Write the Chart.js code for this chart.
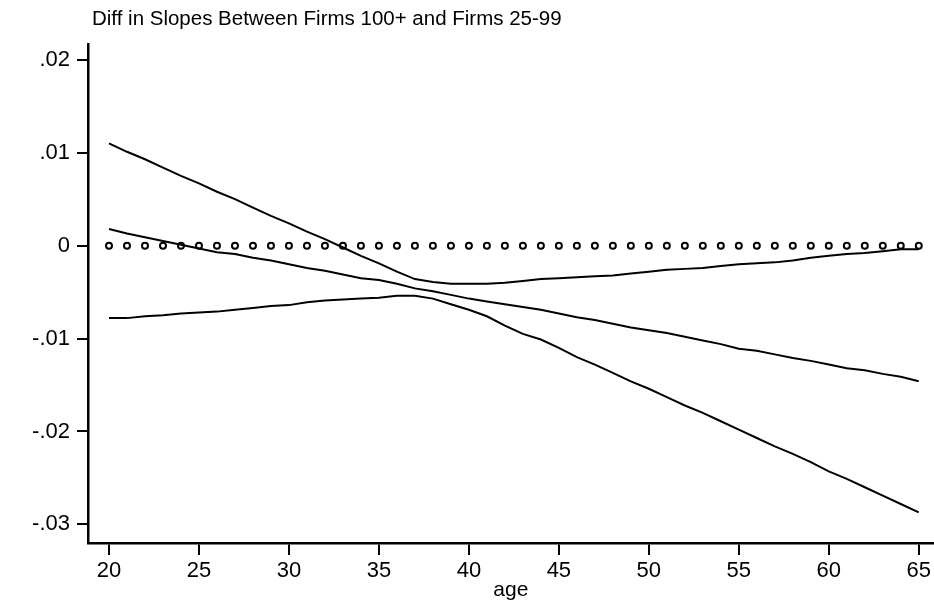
<!DOCTYPE html>
<html>
<head>
<meta charset="utf-8">
<title>Diff in Slopes Between Firms 100+ and Firms 25-99</title>
<script src="https://cdn.jsdelivr.net/npm/chart.js@4.4.1/dist/chart.umd.min.js"></script>
<style>
  body { margin: 0; background: #fff; }
  canvas { display: block; }
</style>
</head>
<body>
<canvas id="myChart" width="934" height="606"></canvas>
<script>
'use strict';

// data
var ages = [20, 21, 22, 23, 24, 25, 26, 27, 28, 29,
            30, 31, 32, 33, 34, 35, 36, 37, 38, 39,
            40, 41, 42, 43, 44, 45, 46, 47, 48, 49,
            50, 51, 52, 53, 54, 55, 56, 57, 58, 59,
            60, 61, 62, 63, 64, 65];

var upperBand = [0.0110, 0.0101, 0.0093, 0.0084, 0.0075, 0.0067, 0.0058, 0.0050, 0.0041, 0.0032,
                 0.0024, 0.0015, 0.0007, -0.0002, -0.0011, -0.0019, -0.0028, -0.0036, -0.0039, -0.0041,
                 -0.0041, -0.0041, -0.0040, -0.0038, -0.0036, -0.0035, -0.0034, -0.0033, -0.0032, -0.0030,
                 -0.0028, -0.0026, -0.0025, -0.0024, -0.0022, -0.0020, -0.0019, -0.0018, -0.0016, -0.0013,
                 -0.0011, -0.0009, -0.0008, -0.0006, -0.0004, -0.0004];

var diffSlope = [0.0018, 0.0013, 0.0009, 0.0005, 0.0001, -0.0003, -0.0007, -0.0009, -0.0013, -0.0016,
                 -0.0020, -0.0024, -0.0027, -0.0031, -0.0035, -0.0037, -0.0041, -0.0046, -0.0049, -0.0053,
                 -0.0057, -0.0060, -0.0063, -0.0066, -0.0069, -0.0073, -0.0077, -0.0080, -0.0084, -0.0088,
                 -0.0091, -0.0094, -0.0098, -0.0102, -0.0106, -0.0111, -0.0113, -0.0117, -0.0121, -0.0124,
                 -0.0128, -0.0132, -0.0134, -0.0138, -0.0141, -0.0146];

var lowerBand = [-0.0078, -0.0078, -0.0076, -0.0075, -0.0073, -0.0072, -0.0071, -0.0069, -0.0067, -0.0065,
                 -0.0064, -0.0061, -0.0059, -0.0058, -0.0057, -0.0056, -0.0054, -0.0054, -0.0057, -0.0063,
                 -0.0069, -0.0076, -0.0086, -0.0095, -0.0101, -0.0110, -0.0120, -0.0128, -0.0137, -0.0146,
                 -0.0154, -0.0163, -0.0172, -0.0180, -0.0189, -0.0198, -0.0207, -0.0216, -0.0224, -0.0233,
                 -0.0243, -0.0251, -0.0260, -0.0269, -0.0278, -0.0287];

var zeroLine = [0, 0, 0, 0, 0, 0, 0, 0, 0, 0,
                0, 0, 0, 0, 0, 0, 0, 0, 0, 0,
                0, 0, 0, 0, 0, 0, 0, 0, 0, 0,
                0, 0, 0, 0, 0, 0, 0, 0, 0, 0,
                0, 0, 0, 0, 0, 0];

var xTickValues = [20, 25, 30, 35, 40, 45, 50, 55, 60, 65];
var yTickValues = [0.02, 0.01, 0, -0.01, -0.02, -0.03];
var yTickLabels = ['.02', '.01', '0', '-.01', '-.02', '-.03'];

var chartTitle = 'Diff in Slopes Between Firms 100+ and Firms 25-99';
var xTitle = 'age';

var fontFamily = '"Liberation Sans", Arial, Helvetica, sans-serif';

function toPoints(values) {
  return ages.map(function (a, i) {
    return { x: a, y: values[i] };
  });
}

// title sits at top-left, over the y axis
var cornerTitlePlugin = {
  id: 'cornerTitle',
  afterDraw: function (chart) {
    var ctx = chart.ctx;
    ctx.save();
    ctx.fillStyle = '#000';
    ctx.font = '20.5px ' + fontFamily;
    ctx.textAlign = 'left';
    ctx.textBaseline = 'alphabetic';
    ctx.fillText(chartTitle, 92, 25);
    ctx.restore();
  }
};

function lineSet(values) {
  return {
    data: toPoints(values),
    showLine: true,
    borderColor: '#000',
    borderWidth: 2,
    pointRadius: 0,
    tension: 0,
    fill: false
  };
}

var ctx = document.getElementById('myChart');
var myChart = new Chart(ctx, {
  type: 'scatter',
  data: {
    datasets: [
      lineSet(upperBand),
      lineSet(diffSlope),
      lineSet(lowerBand),
      {
        data: toPoints(zeroLine),
        showLine: false,
        pointStyle: 'circle',
        pointRadius: 3,
        pointBorderWidth: 2,
        pointBorderColor: '#000',
        pointBackgroundColor: '#fff'
      }
    ]
  },
  plugins: [cornerTitlePlugin],
  options: {
    responsive: false,
    animation: false,
    layout: { autoPadding: false, padding: { top: 44, left: 0, right: 0, bottom: 0 } },
    plugins: {
      legend: { display: false },
      tooltip: { enabled: false }
    },
    scales: {
      x: {
        type: 'linear',
        min: 18.833,
        max: 65.833,
        afterBuildTicks: function (scale) {
          scale.ticks = xTickValues.map(function (v) { return { value: v }; });
        },
        afterFit: function (scale) { scale.height = 63; },
        ticks: {
          color: '#000',
          padding: 3,
          maxRotation: 0,
          autoSkip: false,
          font: { size: 22, family: fontFamily }
        },
        grid: {
          drawOnChartArea: false,
          drawTicks: true,
          tickLength: 12,
          color: '#000',
          lineWidth: 2
        },
        border: { display: true, color: '#000', width: 2.5 },
        title: {
          display: true,
          text: xTitle,
          color: '#000',
          font: { size: 21, family: fontFamily },
          padding: { top: 0, bottom: 3 }
        }
      },
      y: {
        type: 'linear',
        min: -0.032,
        max: 0.0217,
        afterBuildTicks: function (scale) {
          scale.ticks = yTickValues.map(function (v) { return { value: v }; });
        },
        afterFit: function (scale) { scale.width = 88; },
        ticks: {
          color: '#000',
          padding: 7,
          autoSkip: false,
          font: { size: 22, family: fontFamily },
          callback: function (value, index) { return yTickLabels[index]; }
        },
        grid: {
          drawOnChartArea: false,
          drawTicks: true,
          tickLength: 11,
          color: '#000',
          lineWidth: 2
        },
        border: { display: true, color: '#000', width: 2.5 }
      }
    }
  }
});
</script>
</body>
</html>
